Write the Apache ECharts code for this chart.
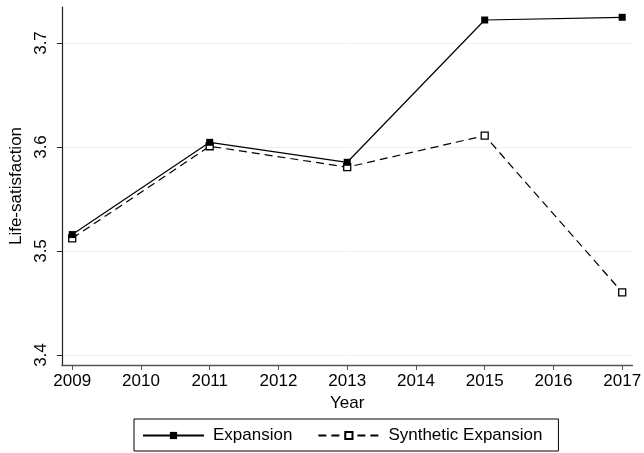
<!DOCTYPE html>
<html>
<head>
<meta charset="utf-8">
<script src="https://cdn.jsdelivr.net/npm/echarts@6/dist/echarts.min.js"></script>
<style>
  html, body { margin: 0; padding: 0; background: #fff; }
  #chart { width: 644px; height: 453px; }
</style>
</head>
<body>
<div id="chart"></div>
<script>
// Survey waves and mean life-satisfaction per wave
const years = [2009, 2011, 2013, 2015, 2017];
const expansion = [3.5158, 3.6045, 3.5853, 3.7221, 3.7247];
const syntheticExpansion = [3.5122, 3.6007, 3.5806, 3.6109, 3.4603];

// Axis tick labels
const xTicks = [2009, 2010, 2011, 2012, 2013, 2014, 2015, 2016, 2017];
const yTicks = [3.4, 3.5, 3.6, 3.7];

const FONT = '"Liberation Sans", Arial, Helvetica, sans-serif';
const FS = 17;
const pairs = (xs, ys) => xs.map((x, i) => [x, ys[i]]);

const chart = echarts.init(document.getElementById('chart'), null, { renderer: 'canvas' });

chart.setOption({
  animation: false,
  backgroundColor: '#ffffff',
  textStyle: { fontFamily: FONT, color: '#000' },
  grid: { left: 56, right: 8, top: 7, bottom: 88, containLabel: false },
  xAxis: {
    type: 'value',
    min: 2008.85,
    max: 2017.15,
    name: 'Year',
    nameLocation: 'middle',
    nameGap: 27,
    nameTextStyle: { fontSize: FS, fontFamily: FONT, color: '#000' },
    axisLine: { show: true, lineStyle: { color: '#555', width: 1.4 } },
    axisTick: { show: true, length: 5, customValues: xTicks, lineStyle: { color: '#555', width: 1 } },
    axisLabel: {
      customValues: xTicks,
      fontSize: FS, fontFamily: FONT, color: '#000', margin: 8,
      formatter: v => String(v)
    },
    splitLine: { show: false }
  },
  yAxis: {
    type: 'value',
    min: 3.3904,
    max: 3.7346,
    name: 'Life-satisfaction',
    nameLocation: 'middle',
    nameRotate: 90,
    nameGap: 36,
    nameTextStyle: { fontSize: FS, fontFamily: FONT, color: '#000' },
    axisLine: { show: true, lineStyle: { color: '#222', width: 1.2 } },
    axisTick: { show: true, length: 5, customValues: yTicks, lineStyle: { color: '#222', width: 1 } },
    axisLabel: {
      customValues: yTicks,
      rotate: 90,
      fontSize: FS, fontFamily: FONT, color: '#000', margin: 12,
      formatter: v => v.toFixed(1)
    },
    splitLine: { show: true, lineStyle: { color: '#eaf2f3', width: 1 } }
  },
  legend: {
    left: 134,
    top: 419,
    orient: 'horizontal',
    padding: [8, 16, 7, 8],
    itemGap: 25,
    itemWidth: 61,
    itemHeight: 9,
    borderColor: '#000',
    borderWidth: 1,
    textStyle: { fontSize: FS, fontFamily: FONT, color: '#000', padding: [0, 0, 0, 4] },
    data: ['Expansion', 'Synthetic Expansion']
  },
  series: [
    {
      name: 'Expansion',
      type: 'line',
      data: pairs(years, expansion),
      symbol: 'rect',
      symbolSize: 7,
      itemStyle: { color: '#000' },
      lineStyle: { color: '#000', width: 1.2, type: 'solid' },
      z: 3
    },
    {
      name: 'Synthetic Expansion',
      type: 'line',
      data: pairs(years, syntheticExpansion),
      symbol: 'rect',
      symbolSize: 7,
      itemStyle: { color: '#fff', borderColor: '#000', borderWidth: 1.3 },
      lineStyle: { color: '#000', width: 1.2, type: [8, 5] },
      z: 2
    }
  ]
});
</script>
</body>
</html>
